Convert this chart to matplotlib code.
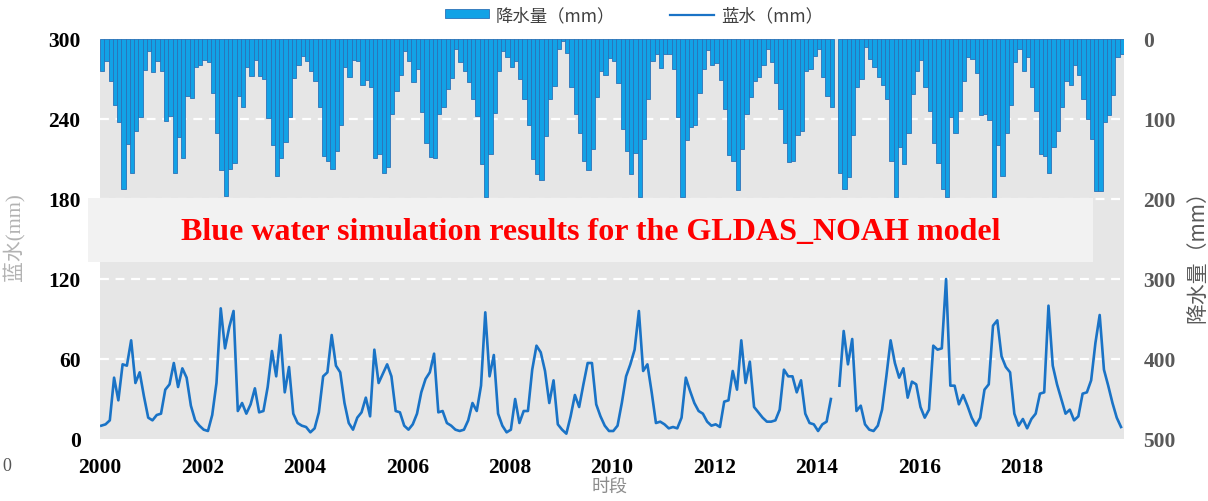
import numpy as np
import matplotlib
matplotlib.use("Agg")
import matplotlib.pyplot as plt
from matplotlib.patches import Rectangle, Patch
from matplotlib.lines import Line2D

plt.rcParams['font.family'] = ['Noto Sans CJK SC', 'DejaVu Sans']

nan = np.nan

# Monthly precipitation (mm), Jan 2000 - Dec 2019, one row per year
precip = [
    40, 28, 53, 82, 104, 188, 131, 167, 115, 97, 39, 15,
    41, 28, 40, 102, 96, 168, 123, 149, 71, 74, 35, 32,
    26, 29, 67, 118, 164, 196, 163, 155, 71, 85, 35, 46,
    26, 46, 50, 99, 132, 171, 149, 129, 97, 49, 32, 21,
    28, 40, 52, 85, 146, 152, 163, 140, 107, 35, 47, 26,
    28, 58, 51, 60, 149, 144, 167, 160, 94, 65, 45, 15,
    27, 54, 38, 91, 130, 148, 149, 94, 85, 62, 49, 12,
    29, 40, 54, 75, 96, 156, 197, 144, 92, 40, 15, 23,
    35, 27, 50, 75, 108, 150, 169, 176, 121, 75, 59, 12,
    2, 17, 60, 94, 117, 153, 164, 137, 73, 40, 45, 24,
    27, 55, 112, 140, 169, 142, 197, 125, 75, 27, 19, 36,
    19, 19, 37, 98, 197, 126, 110, 108, 68, 37, 14, 33,
    30, 51, 87, 145, 153, 189, 137, 94, 73, 53, 48, 33,
    12, 29, 55, 87, 130, 154, 152, 120, 115, 40, 37, 21,
    12, 48, 71, 85, nan, 167, 188, 172, 120, 60, 50, 10,
    25, 35, 48, 58, 75, 152, 198, 135, 156, 117, 69, 40,
    26, 60, 90, 130, 155, 187, 198, 98, 117, 90, 52, 23,
    25, 42, 95, 94, 101, 198, 133, 171, 117, 83, 29, 12,
    40, 23, 60, 90, 144, 146, 168, 135, 115, 85, 53, 58,
    32, 45, 75, 100, 125, 190, 190, 104, 95, 70, 22, 19,
]

# Monthly blue water (mm), Jan 2000 - Dec 2019
blue_water = [
    10, 11, 14, 46, 29, 56, 55, 74, 42, 50, 32, 16,
    14, 18, 19, 37, 41, 57, 39, 53, 46, 25, 14, 10,
    7, 6, 18, 42, 98, 68, 84, 96, 21, 27, 19, 26,
    38, 20, 21, 39, 66, 47, 78, 35, 54, 19, 12, 10,
    9, 5, 8, 20, 47, 50, 78, 55, 50, 27, 12, 7,
    16, 20, 31, 17, 67, 42, 49, 56, 47, 21, 20, 10,
    7, 11, 19, 35, 45, 50, 64, 20, 21, 12, 10, 7,
    6, 7, 14, 27, 21, 40, 95, 47, 63, 19, 10, 5,
    7, 30, 12, 21, 21, 52, 70, 65, 51, 27, 44, 11,
    7, 4, 17, 33, 24, 41, 57, 57, 26, 17, 10, 6,
    6, 10, 27, 47, 56, 67, 96, 51, 56, 35, 12, 13,
    11, 8, 9, 8, 16, 46, 36, 27, 21, 19, 13, 10,
    11, 9, 28, 29, 51, 37, 74, 42, 58, 24, 20, 16,
    13, 13, 14, 22, 52, 47, 47, 35, 44, 19, 12, 11,
    6, 11, 13, 30, nan, 40, 81, 56, 75, 21, 25, 11,
    7, 6, 10, 22, 47, 74, 57, 46, 53, 31, 43, 41,
    24, 16, 22, 70, 67, 68, 120, 40, 40, 26, 33, 25,
    16, 10, 16, 37, 41, 85, 89, 62, 54, 50, 19, 10,
    15, 8, 15, 19, 34, 35, 100, 55, 41, 30, 19, 22,
    14, 17, 34, 35, 44, 72, 93, 52, 40, 27, 16, 9,
]

start_year = 2000
year_ticks = [2000, 2002, 2004, 2006, 2008, 2010, 2012, 2014, 2016, 2018]
left_ticks = [0, 60, 120, 180, 240, 300]
right_ticks = [0, 100, 200, 300, 400, 500]

title = "Blue water simulation results for the GLDAS_NOAH model"
legend_precip = "降水量（mm）"
legend_blue = "蓝水（mm）"
ylabel_left = "蓝水(mm)"
ylabel_right = "降水量（mm）"
xlabel = "时段"

W, H = 1208, 502
fig = plt.figure(figsize=(W / 100, H / 100), dpi=100)
fig.patch.set_facecolor("white")

ax_l, ax_r, ax_b, ax_t = 100, 1124, 440, 40
ax = fig.add_axes([ax_l / W, 1 - ax_b / H, (ax_r - ax_l) / W, (ax_b - ax_t) / H])
axr = ax.twinx()

n = len(precip)
months = np.arange(n)
x_bar = start_year + (months + 0.5) / 12.0
x_line = start_year + (months + 0.3) / 12.0
p = np.array(precip, dtype=float)
bw = np.array(blue_water, dtype=float)

# precipitation bars hanging from the top on the inverted right axis
axr.set_zorder(1)
ax.set_zorder(2)
ax.patch.set_visible(False)
axr.patch.set_visible(True)
axr.patch.set_facecolor("#e6e6e6")
ok = ~np.isnan(p)
axr.bar(x_bar[ok], p[ok], width=1 / 12.0, color="#12a2e6",
        edgecolor="#2b72b8", linewidth=0.6, zorder=3)
for v in right_ticks[1:-1]:
    axr.axhline(v, color="white", lw=1.6, ls=(0, (4, 3)), zorder=1)
axr.set_ylim(500, 0)
axr.set_yticks(right_ticks)
axr.set_yticklabels([str(v) for v in right_ticks], fontfamily="Liberation Serif",
                    fontweight="bold", fontsize=15.5, color="#595959")
axr.tick_params(axis="y", length=0, pad=14)

ax.plot(x_line, bw, color="#1a73c6", lw=1.9, zorder=4)
ax.set_ylim(0, 300)
ax.set_xlim(start_year, start_year + n / 12.0)
ax.set_yticks(left_ticks)
ax.set_yticklabels([str(v) for v in left_ticks], fontfamily="Liberation Serif",
                   fontweight="bold", fontsize=15.5, color="black")
ax.set_xticks(year_ticks)
ax.set_xticklabels([str(v) for v in year_ticks], fontfamily="Liberation Serif",
                   fontweight="bold", fontsize=15.5, color="black")
ax.tick_params(axis="y", length=0, pad=14)
ax.tick_params(axis="x", length=0, pad=13)
for a in (ax, axr):
    for s in a.spines.values():
        s.set_visible(False)

# caption band across the middle of the chart
fig.patches.append(Rectangle((88 / W, 1 - 263 / H), (1093 - 88) / W, (263 - 199) / H,
                             transform=fig.transFigure, facecolor="#f2f2f2",
                             edgecolor="none", zorder=10))
fig.text(591 / W, 1 - 232 / H, title, ha="center", va="center",
         fontfamily="Liberation Serif", fontweight="bold", fontsize=23,
         color="#ff0000", zorder=11)

# axis titles
fig.text(14 / W, 1 - 237 / H, ylabel_left, rotation=90, ha="center", va="center",
         fontsize=15, color="#b3b3b3", family=["Liberation Serif", "Noto Sans CJK SC"])
fig.text(1197 / W, 1 - 252 / H, ylabel_right, rotation=90, ha="center", va="center",
         fontsize=15, color="#595959")
fig.text(610 / W, 1 - 487 / H, xlabel, ha="center", va="center",
         fontsize=13, color="#8c8c8c")
fig.text(2 / W, 1 - 467 / H, "0", ha="left", va="center",
         fontfamily="Liberation Serif", fontsize=13, color="#555555")

handles = [Patch(facecolor="#12a2e6", edgecolor="#2b72b8", linewidth=0.6),
           Line2D([0], [0], color="#1a73c6", lw=1.6)]
leg = fig.legend(handles, [legend_precip, legend_blue], loc="center",
                 bbox_to_anchor=(634 / W, 1 - 16 / H), ncol=2, frameon=False,
                 fontsize=12.5, handlelength=2.5, handleheight=0.45,
                 handletextpad=0.4, columnspacing=3.2)
for t in leg.get_texts():
    t.set_color("#404040")

fig.savefig("out.png", dpi=100, facecolor="white")
